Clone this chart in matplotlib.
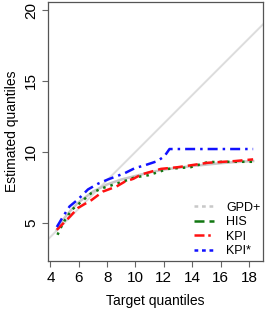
import matplotlib
matplotlib.use("Agg")
import matplotlib.pyplot as plt
from matplotlib.lines import Line2D

plt.rcParams['font.family'] = ['Liberation Sans', 'DejaVu Sans']

# target quantiles (x) and estimates per method
x_gpd = [4.45, 5.0, 5.5, 6.0, 7.0, 8.0, 9.0, 10.0, 11.0, 12.0, 13.0, 14.0, 15.0, 16.0, 17.0, 18.3]
y_gpd = [4.5, 5.35, 5.95, 6.45, 7.2, 7.7, 8.05, 8.3, 8.55, 8.75, 8.88, 9.0, 9.1, 9.2, 9.28, 9.35]

x_his = [4.5, 4.9, 5.5, 6.2, 6.9, 7.7, 8.5, 9.25, 9.95, 10.9, 12.3, 13.9, 15.1, 16.5, 18.3]
y_his = [4.15, 5.0, 5.9, 6.5, 7.1, 7.45, 7.7, 7.95, 8.2, 8.35, 8.8, 8.92, 9.28, 9.3, 9.3]

x_kpi = [4.45, 5.25, 5.95, 6.9, 7.7, 8.65, 9.25, 9.85, 10.4, 11.8, 13.0, 15.1, 17.0, 18.3]
y_kpi = [4.5, 5.3, 6.05, 6.6, 7.2, 7.55, 7.9, 8.1, 8.4, 8.8, 8.92, 9.23, 9.35, 9.47]

x_kpis = [4.45, 4.9, 5.35, 5.95, 6.65, 7.35, 8.05, 9.25, 9.95, 10.65, 11.55, 12.05, 12.4, 13.0, 15.0, 18.3]
y_kpis = [4.7, 5.45, 6.15, 6.65, 7.35, 7.75, 8.05, 8.5, 8.85, 9.05, 9.35, 9.7, 10.2, 10.2, 10.2, 10.2]

xticks = [4, 6, 8, 10, 12, 14, 16, 18]
yticks = [5, 10, 15, 20]

fig = plt.figure(figsize=(2.66, 3.10), dpi=100)
ax = fig.add_axes([0.1805, 0.158, 0.8085, 0.8355])

ax.plot([3, 20], [3, 20], color='#dcdcdc', lw=1.4)
ax.plot(x_gpd, y_gpd, color='#c8c8c8', lw=1.8)
ax.plot(x_his, y_his, color='#117711', lw=1.8, linestyle=(0, (1, 2)))
ax.plot(x_kpi, y_kpi, color='#ff1111', lw=1.8, linestyle=(0, (4, 2)))
ax.plot(x_kpis, y_kpis, color='#1111ff', lw=1.8, linestyle=(0, (4, 2, 1, 2)))

ax.set_xlim(3.83, 19.0)
ax.set_ylim(2.3, 20.57)
ax.set_xticks(xticks)
ax.set_yticks(yticks)
plt.yticks(rotation=90, va='center')
ax.tick_params(labelsize=11, length=4, color='#666666', pad=3)
for s in ax.spines.values():
    s.set_color('#555555')
    s.set_linewidth(0.9)

ax.set_xlabel('Target quantiles', fontsize=10, labelpad=7)
ax.set_ylabel('Estimated quantiles', fontsize=10, labelpad=4)

handles = [
    Line2D([], [], color='#c8c8c8', lw=1.8, linestyle=(0, (1.5, 1.5))),
    Line2D([], [], color='#117711', lw=1.8, linestyle=(0, (4, 2))),
    Line2D([], [], color='#ff1111', lw=1.8, linestyle=(0, (4, 1.5, 1, 1.5))),
    Line2D([], [], color='#1111ff', lw=1.8, linestyle=(0, (1.5, 1.5))),
]
ax.legend(handles, ['GPD+', 'HIS', 'KPI', 'KPI*'], loc='lower right', frameon=False,
          fontsize=9, handlelength=1.6, handletextpad=1.0, labelspacing=0.2,
          bbox_to_anchor=(1.012, -0.005), borderaxespad=0.0)

fig.savefig('out.png', dpi=100)
